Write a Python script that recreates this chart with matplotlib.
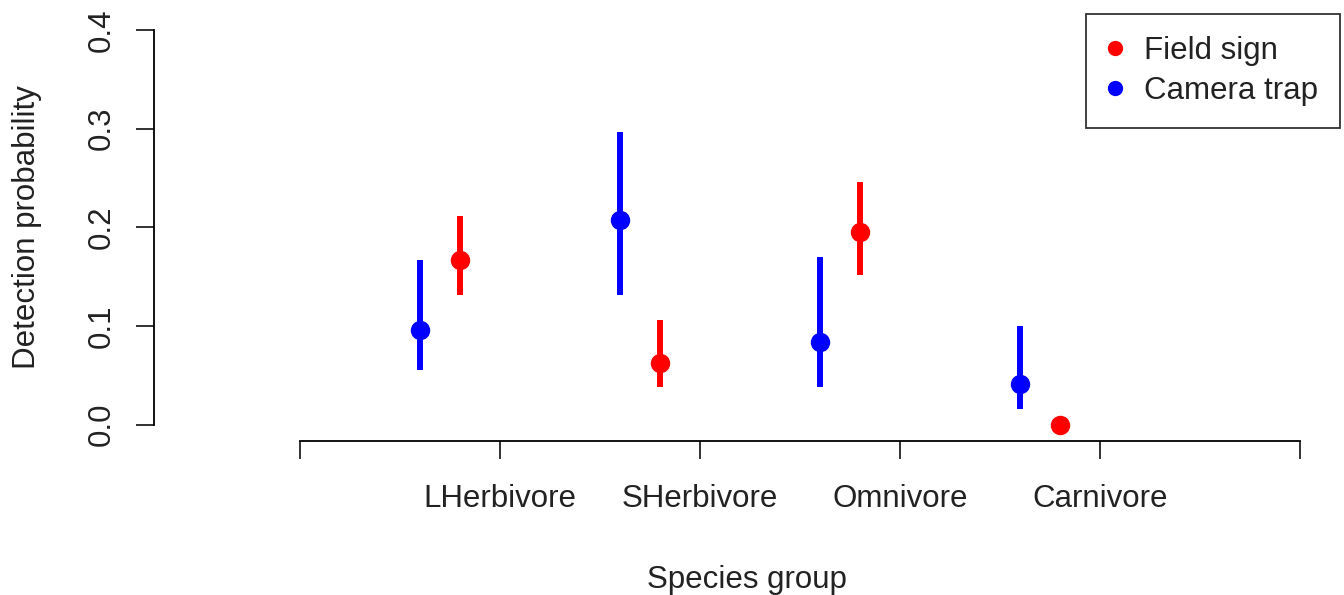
import numpy as np
import matplotlib.pyplot as plt
from matplotlib.lines import Line2D

plt.rcParams['font.family'] = ['Liberation Sans', 'DejaVu Sans']

groups = ['LHerbivore', 'SHerbivore', 'Omnivore', 'Carnivore']

# camera trap estimates and 95% intervals
cam_est = [0.0955, 0.2073, 0.0836, 0.0410]
cam_lo = [0.0553, 0.1314, 0.0378, 0.0159]
cam_hi = [0.1666, 0.2966, 0.1702, 0.1003]

# field sign estimates and intervals (carnivore has no interval)
field_est = [0.1666, 0.0626, 0.1950, 0.0]
field_lo = [0.1314, 0.0383, 0.1514, 0.0]
field_hi = [0.2114, 0.1057, 0.2460, 0.0]

pos = np.arange(1, len(groups) + 1)
x_cam = pos - 0.4
x_field = pos - 0.2

fig = plt.figure(figsize=(13.44, 5.95), dpi=100)
ax = fig.add_axes([154/1344, 1 - 441/595, (1340-154)/1344, (441-14)/595])

ax.vlines(x_cam, cam_lo, cam_hi, color='blue', lw=4.3)
ax.plot(x_cam, cam_est, 'o', color='blue', ms=13)
ax.vlines(x_field, field_lo, field_hi, color='red', lw=4.3)
ax.plot(x_field, field_est, 'o', color='red', ms=13)

ax.set_xlim(-0.73, 5.2)
ax.set_ylim(-0.0165, 0.416)

for s in ['top', 'right']:
    ax.spines[s].set_visible(False)
ax.spines['left'].set_bounds(0, 0.4)
ax.spines['bottom'].set_bounds(0, 5)
ax.spines['left'].set_linewidth(1.3)
ax.spines['bottom'].set_linewidth(1.3)

ax.set_xticks(np.arange(0, 6))
ax.set_xticklabels([''] + groups + [''])
ax.set_yticks([0, 0.1, 0.2, 0.3, 0.4])
ax.set_yticklabels(['0.0', '0.1', '0.2', '0.3', '0.4'], rotation=90, va='center')
ax.tick_params(axis='both', direction='out', length=13, width=1.3,
               labelsize=22.5, color='#222222', labelcolor='#222222')
ax.tick_params(axis='x', pad=18)
ax.tick_params(axis='y', pad=14)

ax.set_xlabel('Species group', fontsize=22.5, color='#222222', labelpad=37)
ax.set_ylabel('Detection probability', fontsize=22.5, color='#222222', labelpad=32)

handles = [Line2D([], [], marker='o', ls='none', color='red', ms=10),
           Line2D([], [], marker='o', ls='none', color='blue', ms=10)]
leg = ax.legend(handles, ['Field sign', 'Camera trap'], loc='upper right',
                fontsize=22.5, frameon=True, fancybox=False, borderaxespad=0,
                handlelength=0.5, handletextpad=0.67, borderpad=0.7,
                labelspacing=0.32)
leg.get_frame().set_edgecolor('black')
leg.get_frame().set_linewidth(1.3)
for t in leg.get_texts():
    t.set_color('#222222')

fig.savefig('out.png', dpi=100)
